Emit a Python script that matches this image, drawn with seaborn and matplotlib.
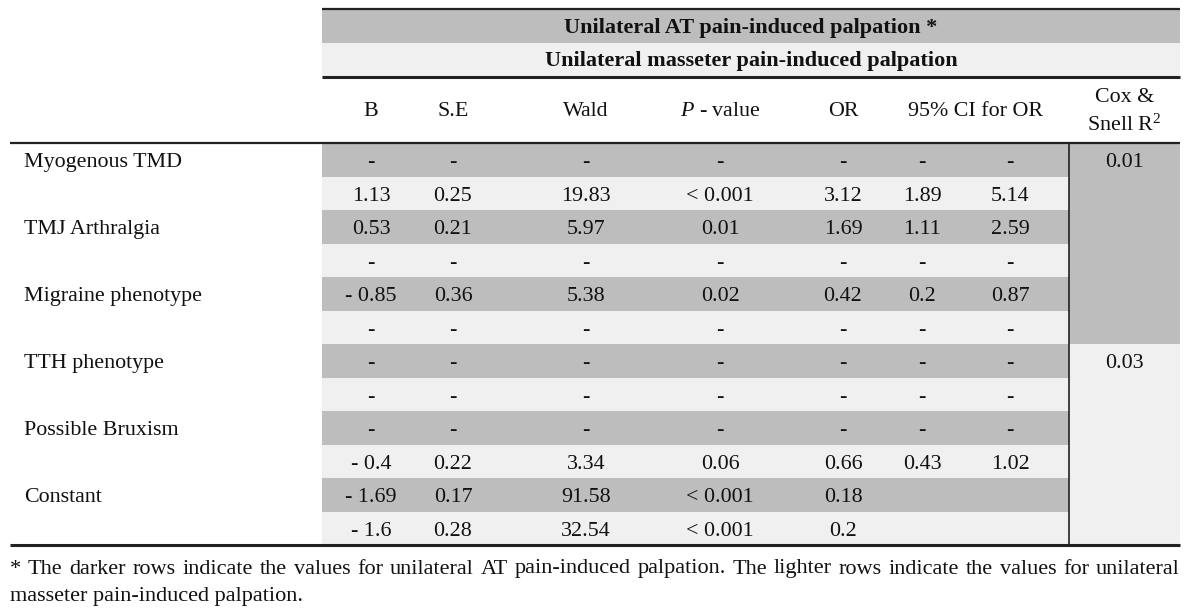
import matplotlib
matplotlib.use("Agg")
import matplotlib.pyplot as plt
import seaborn as sns

# ---------------- data ----------------
title_top = "Unilateral AT pain-induced palpation *"
title_sub = "Unilateral masseter pain-induced palpation"
col_headers = ["B", "S.E", "Wald", "$\\mathit{P}$ - value", "OR"]
ci_header = "95% CI for OR"
cox_header = ["Cox &", "Snell R$^{2}$"]

row_labels = ["Myogenous TMD", "TMJ Arthralgia", "Migraine phenotype",
              "TTH phenotype", "Possible Bruxism", "Constant"]

B = ["-", "1.13", "0.53", "-", "- 0.85", "-", "-", "-", "-", "- 0.4", "- 1.69", "- 1.6"]
SE = ["-", "0.25", "0.21", "-", "0.36", "-", "-", "-", "-", "0.22", "0.17", "0.28"]
Wald = ["-", "19.83", "5.97", "-", "5.38", "-", "-", "-", "-", "3.34", "91.58", "32.54"]
Pval = ["-", "< 0.001", "0.01", "-", "0.02", "-", "-", "-", "-", "0.06", "< 0.001", "< 0.001"]
OR = ["-", "3.12", "1.69", "-", "0.42", "-", "-", "-", "-", "0.66", "0.18", "0.2"]
CI_low = ["-", "1.89", "1.11", "-", "0.2", "-", "-", "-", "-", "0.43", "", ""]
CI_high = ["-", "5.14", "2.59", "-", "0.87", "-", "-", "-", "-", "1.02", "", ""]
cox_values = ["0.01", "0.03"]

footnote = ["* The darker rows indicate the values for unilateral AT pain-induced palpation. The lighter rows indicate the values for unilateral",
            "masseter pain-induced palpation."]

# ---------------- style ----------------
sns.set_theme(style="white")
plt.rcParams["font.family"] = ["Liberation Serif", "DejaVu Serif"]
plt.rcParams["mathtext.fontset"] = "custom"
plt.rcParams["mathtext.rm"] = "Liberation Serif"
plt.rcParams["mathtext.it"] = "Liberation Serif:italic"

DARK = "#bdbdbd"
LIGHT = "#f0f0f0"
TXT = "#111111"
FS = 15.8
FS_FOOT = 16
DY = 3  # small downward nudge of text centres

fig = plt.figure(figsize=(12, 6.13), dpi=100)
ax = fig.add_axes([0, 0, 1, 1])
ax.set_xlim(0, 1200)
ax.set_ylim(613, 0)
ax.axis("off")

# layout (pixels)
left_edge, right_edge = 10, 1180
data_left, data_right = 322, 1069
y_top = 9
y_mid = 43
y_hdr_line = 77
y_body = 143
y_end_target = 545
col_x = [371, 453, 586, 720, 843, 922, 1010]
cox_x = (data_right + right_edge) / 2

# header bands
ax.barh((y_top + y_mid) / 2, right_edge - data_left, height=y_mid - y_top,
        left=data_left, color=DARK, edgecolor="none")
ax.barh((y_mid + y_hdr_line) / 2, right_edge - data_left, height=y_hdr_line - y_mid,
        left=data_left, color=LIGHT, edgecolor="none")
xc_title = (data_left + right_edge) / 2
ax.text(xc_title, 28, title_top, ha="center", va="center",
        fontsize=16, fontweight="bold", color=TXT)
ax.text(xc_title, 61, title_sub, ha="center", va="center",
        fontsize=16, fontweight="bold", color=TXT)

ax.plot([data_left, right_edge], [y_top, y_top], color="#222", lw=1.6, solid_capstyle="butt")
ax.plot([data_left, right_edge], [y_hdr_line, y_hdr_line], color="#222", lw=2.2, solid_capstyle="butt")

# column headers
y_ch = 112
for x, h in zip(col_x[:5], col_headers):
    ax.text(x, y_ch, h, ha="center", va="center", fontsize=FS, color=TXT)
ax.text((col_x[5] + col_x[6]) / 2 + 9, y_ch, ci_header, ha="center", va="center", fontsize=FS, color=TXT)
ax.text(cox_x, 98, cox_header[0], ha="center", va="center", fontsize=FS, color=TXT)
ax.text(cox_x, 125, cox_header[1], ha="center", va="center", fontsize=FS, color=TXT)

# body rows
columns = [B, SE, Wald, Pval, OR, CI_low, CI_high]
n_rows = len(B)
row_h = (y_end_target - y_body) / n_rows
for i in range(n_rows):
    yc = y_body + row_h * (i + 0.5)
    ax.barh(yc, data_right - data_left, height=row_h, left=data_left,
            color=DARK if i % 2 == 0 else LIGHT, edgecolor="none")
    for x, col in zip(col_x, columns):
        if col[i]:
            ax.text(x, yc + DY, col[i], ha="center", va="center", fontsize=FS, color=TXT)

# row labels on the dark rows
for k, lab in enumerate(row_labels):
    yc = y_body + row_h * (2 * k + 0.5)
    ax.text(24, yc + DY, lab, ha="left", va="center", fontsize=FS, color=TXT)

# Cox & Snell column blocks
half = n_rows // 2
for b, val in enumerate(cox_values):
    y0 = y_body + row_h * half * b
    ax.barh(y0 + row_h * half / 2, right_edge - data_right, height=row_h * half, left=data_right,
            color=DARK if b == 0 else LIGHT, edgecolor="none")
    ax.text(cox_x, y0 + row_h * 0.5 + DY, val, ha="center", va="center", fontsize=FS, color=TXT)

y_end = y_body + row_h * n_rows
ax.plot([data_right, data_right], [y_body, y_end], color="#222", lw=1.2)
ax.plot([left_edge, right_edge], [y_body, y_body], color="#222", lw=1.6, solid_capstyle="butt")
ax.plot([left_edge, right_edge], [y_end, y_end], color="#222", lw=2.2, solid_capstyle="butt")

# footnote: first line justified across the table width
renderer = fig.canvas.get_renderer()
words = footnote[0].split(" ")
word_artists = [ax.text(0, 569, w, ha="left", va="center", fontsize=FS_FOOT, color=TXT) for w in words]
widths = [t.get_window_extent(renderer=renderer).width for t in word_artists]
gap = (right_edge - left_edge - sum(widths)) / (len(words) - 1)
x = left_edge
for t, w in zip(word_artists, widths):
    t.set_x(x)
    x += w + gap
ax.text(left_edge, 596, footnote[1], ha="left", va="center", fontsize=FS_FOOT, color=TXT)

fig.savefig("out.png", dpi=100, facecolor="white")
